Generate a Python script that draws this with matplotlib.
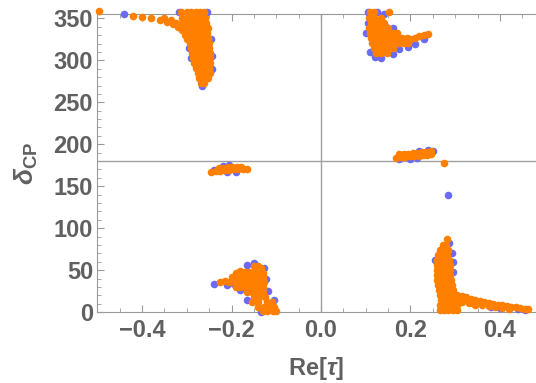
import matplotlib.pyplot as plt
from matplotlib.ticker import MultipleLocator

plt.rcParams['font.family'] = 'Liberation Sans'
plt.rcParams['font.weight'] = 'bold'
plt.rcParams['mathtext.fontset'] = 'custom'
plt.rcParams['mathtext.rm'] = 'Liberation Sans:bold'
plt.rcParams['mathtext.bf'] = 'Liberation Sans:bold'
plt.rcParams['mathtext.it'] = 'Liberation Sans:italic:bold'

x_ticks = [-0.4, -0.2, 0.0, 0.2, 0.4]
x_tick_labels = ['\u22120.4', '\u22120.2', '0.0', '0.2', '0.4']
y_ticks = [0, 50, 100, 150, 200, 250, 300, 350]

# (Re[tau], delta_CP), cluster by cluster
orange_a = [(-0.497, 359), (-0.42, 353), (-0.40, 352), (-0.38, 350), (-0.36, 348), (-0.345, 346),
            (-0.33, 343), (-0.32, 340), (-0.31, 336), (-0.35, 350), (-0.335, 348), (-0.325, 345),
            (-0.315, 342), (-0.305, 330), (-0.30, 325),
            (-0.312, 357), (-0.30, 357), (-0.29, 357), (-0.28, 357), (-0.27, 357), (-0.262, 357),
            (-0.31, 351), (-0.30, 351), (-0.29, 351), (-0.28, 351), (-0.27, 351), (-0.26, 351),
            (-0.305, 345), (-0.295, 345), (-0.285, 345), (-0.275, 345), (-0.265, 345), (-0.256, 345),
            (-0.30, 339), (-0.29, 339), (-0.28, 339), (-0.27, 339), (-0.26, 339), (-0.253, 339),
            (-0.298, 333), (-0.287, 333), (-0.276, 333), (-0.265, 333), (-0.254, 333),
            (-0.294, 327), (-0.284, 327), (-0.274, 327), (-0.264, 327), (-0.252, 327),
            (-0.292, 321), (-0.282, 321), (-0.272, 321), (-0.262, 321), (-0.251, 321),
            (-0.29, 315), (-0.28, 315), (-0.27, 315), (-0.26, 315), (-0.25, 315),
            (-0.288, 309), (-0.278, 309), (-0.268, 309), (-0.258, 309), (-0.249, 309),
            (-0.286, 303), (-0.276, 303), (-0.266, 303), (-0.256, 303), (-0.248, 303),
            (-0.283, 297), (-0.273, 297), (-0.263, 297), (-0.253, 297), (-0.247, 297),
            (-0.28, 291), (-0.27, 291), (-0.26, 291), (-0.25, 291),
            (-0.276, 285), (-0.266, 285), (-0.256, 285), (-0.248, 285),
            (-0.272, 279), (-0.262, 279), (-0.252, 279), (-0.268, 273), (-0.262, 273)]
blue_a = [(-0.44, 355), (-0.318, 357), (-0.255, 357), (-0.291, 303), (-0.245, 325),
          (-0.244, 305), (-0.243, 290), (-0.266, 270), (-0.295, 315)]

orange_b = [(0.11, 357), (0.118, 357), (0.152, 357), (0.108, 351), (0.118, 351), (0.135, 351),
            (0.112, 345), (0.125, 345), (0.14, 345),
            (0.108, 339), (0.118, 339), (0.13, 339), (0.14, 339), (0.15, 339),
            (0.11, 333), (0.12, 333), (0.13, 333), (0.14, 333), (0.15, 333), (0.16, 333), (0.17, 333),
            (0.112, 327), (0.122, 327), (0.132, 327), (0.142, 327), (0.152, 327), (0.162, 327),
            (0.172, 327), (0.182, 327), (0.192, 327),
            (0.115, 321), (0.125, 321), (0.135, 321), (0.145, 321), (0.155, 321), (0.165, 321),
            (0.175, 321), (0.185, 321), (0.195, 321),
            (0.118, 315), (0.128, 315), (0.138, 315), (0.148, 315), (0.16, 315),
            (0.122, 309), (0.135, 309), (0.148, 309),
            (0.20, 326), (0.21, 327), (0.22, 329), (0.23, 330), (0.24, 331)]
blue_b = [(0.105, 357), (0.125, 358), (0.14, 355), (0.105, 345), (0.10, 333),
          (0.11, 310), (0.12, 304), (0.135, 303), (0.16, 307), (0.175, 313),
          (0.195, 316), (0.21, 320), (0.23, 325), (0.145, 340), (0.16, 338)]

orange_c = [(-0.245, 167.5), (-0.235, 168), (-0.225, 168.5), (-0.215, 169), (-0.205, 169.5),
            (-0.195, 170), (-0.185, 170), (-0.175, 170.5), (-0.166, 171),
            (-0.228, 171.5), (-0.218, 172), (-0.208, 172.5), (-0.198, 173), (-0.188, 173),
            (-0.178, 173.5)]
blue_c = [(-0.22, 174.5), (-0.205, 175), (-0.19, 167), (-0.21, 166.5), (-0.24, 169)]

orange_d = [(0.168, 184), (0.178, 184.5), (0.188, 185), (0.198, 185.5), (0.208, 186),
            (0.218, 186.5), (0.228, 187), (0.238, 187.5), (0.246, 188),
            (0.175, 188), (0.185, 188.5), (0.195, 189), (0.205, 189.5), (0.215, 190),
            (0.225, 190.5), (0.235, 191), (0.245, 191.5), (0.275, 178)]
blue_d = [(0.175, 182.5), (0.20, 183), (0.215, 184), (0.22, 192.5), (0.24, 193), (0.25, 192)]

orange_e = [(-0.225, 36), (-0.215, 37), (-0.15, 55), (-0.14, 55), (-0.135, 52),
            (-0.19, 47), (-0.18, 49), (-0.17, 48), (-0.16, 48), (-0.15, 48), (-0.14, 48),
            (-0.13, 47),
            (-0.20, 42), (-0.19, 42), (-0.18, 42), (-0.17, 42), (-0.16, 42), (-0.15, 42),
            (-0.14, 42), (-0.13, 42),
            (-0.205, 36), (-0.195, 36), (-0.185, 36), (-0.175, 36), (-0.165, 36), (-0.155, 36),
            (-0.145, 36), (-0.135, 36), (-0.128, 36),
            (-0.19, 30), (-0.18, 30), (-0.17, 30), (-0.16, 30), (-0.15, 30), (-0.14, 30),
            (-0.13, 30),
            (-0.165, 24), (-0.155, 24), (-0.145, 24), (-0.13, 24), (-0.15, 18), (-0.138, 18),
            (-0.125, 18), (-0.155, 12), (-0.14, 12), (-0.12, 12), (-0.11, 12),
            (-0.14, 6), (-0.128, 6), (-0.115, 6), (-0.105, 6),
            (-0.13, 1), (-0.12, 1), (-0.108, 1), (-0.10, 1)]
blue_e = [(-0.24, 33), (-0.21, 32), (-0.165, 56), (-0.15, 59), (-0.128, 53), (-0.122, 40),
          (-0.18, 26), (-0.118, 25), (-0.165, 15), (-0.135, 0), (-0.105, 15), (-0.195, 33)]

orange_f = [(0.281, 87), (0.272, 80), (0.28, 80), (0.265, 74), (0.275, 74), (0.283, 74),
            (0.262, 68), (0.272, 68), (0.282, 68),
            (0.26, 62), (0.27, 62), (0.28, 62), (0.287, 62),
            (0.26, 56), (0.27, 56), (0.28, 56), (0.288, 56),
            (0.259, 50), (0.269, 50), (0.279, 50), (0.288, 50),
            (0.26, 44), (0.27, 44), (0.28, 44), (0.289, 44),
            (0.26, 38), (0.27, 38), (0.28, 38), (0.29, 38),
            (0.262, 32), (0.272, 32), (0.282, 32), (0.292, 32),
            (0.264, 26), (0.274, 26), (0.284, 26), (0.294, 26),
            (0.266, 20), (0.276, 20), (0.286, 20), (0.296, 20), (0.305, 20),
            (0.268, 14), (0.278, 14), (0.288, 14), (0.298, 14), (0.308, 14),
            (0.266, 8), (0.276, 8), (0.286, 8), (0.296, 8), (0.305, 8),
            (0.265, 2), (0.275, 2), (0.285, 2), (0.295, 2), (0.304, 2),
            (0.315, 19), (0.325, 17.5), (0.335, 16), (0.345, 14.5), (0.355, 13), (0.365, 12),
            (0.375, 11), (0.385, 10), (0.395, 9), (0.405, 8), (0.415, 7), (0.425, 6.5),
            (0.435, 6), (0.445, 5), (0.455, 4), (0.463, 3.5),
            (0.315, 12), (0.33, 10.5), (0.345, 9), (0.36, 8), (0.375, 7), (0.39, 6),
            (0.405, 5), (0.42, 4)]
blue_f = [(0.283, 140), (0.293, 70), (0.294, 60), (0.286, 82), (0.255, 62),
          (0.295, 48), (0.335, 12), (0.38, 6), (0.40, 5), (0.44, 3.5),
          (0.455, 2.5)]

blue_pts = blue_a + blue_b + blue_c + blue_d + blue_e + blue_f
orange_pts = orange_a + orange_b + orange_c + orange_d + orange_e + orange_f

grey = '#606060'
fig = plt.figure(figsize=(5.36, 3.83), dpi=100)
ax = fig.add_axes([0.1815, 0.185, 0.818, 0.778])

ax.scatter([p[0] for p in blue_pts], [p[1] for p in blue_pts], s=30, c='#6b6bf2',
           linewidths=0, zorder=3, clip_on=False)
ax.scatter([p[0] for p in orange_pts], [p[1] for p in orange_pts], s=30, c='#ff8000',
           linewidths=0, zorder=4, clip_on=False)

ax.axvline(0, color='#a0a0a0', lw=1, zorder=2)
ax.axhline(180, color='#a0a0a0', lw=1, zorder=2)

ax.set_xlim(-0.5, 0.48)
ax.set_ylim(0, 355)
ax.set_xticks(x_ticks, x_tick_labels, fontweight='bold', fontsize=17, color=grey)
ax.set_yticks(y_ticks, [str(v) for v in y_ticks], fontweight='bold', fontsize=17, color=grey)
ax.xaxis.set_minor_locator(MultipleLocator(0.05))
ax.yaxis.set_minor_locator(MultipleLocator(10))

ax.spines['right'].set_visible(False)
for s in ['left', 'top', 'bottom']:
    ax.spines[s].set_color('#999999')
ax.tick_params(which='both', direction='in', color='#999999', top=True)
ax.tick_params(axis='x', pad=5)
ax.tick_params(axis='y', pad=3)
ax.tick_params(which='major', length=5)
ax.tick_params(which='minor', length=3)

ax.set_xlabel(r'Re[$\tau$]', fontsize=17, fontweight='bold', color=grey, labelpad=9)
ax.set_ylabel(r'$\delta_{\mathbf{CP}}$', fontsize=19, color=grey, labelpad=10)

fig.savefig('out.png', dpi=100)
